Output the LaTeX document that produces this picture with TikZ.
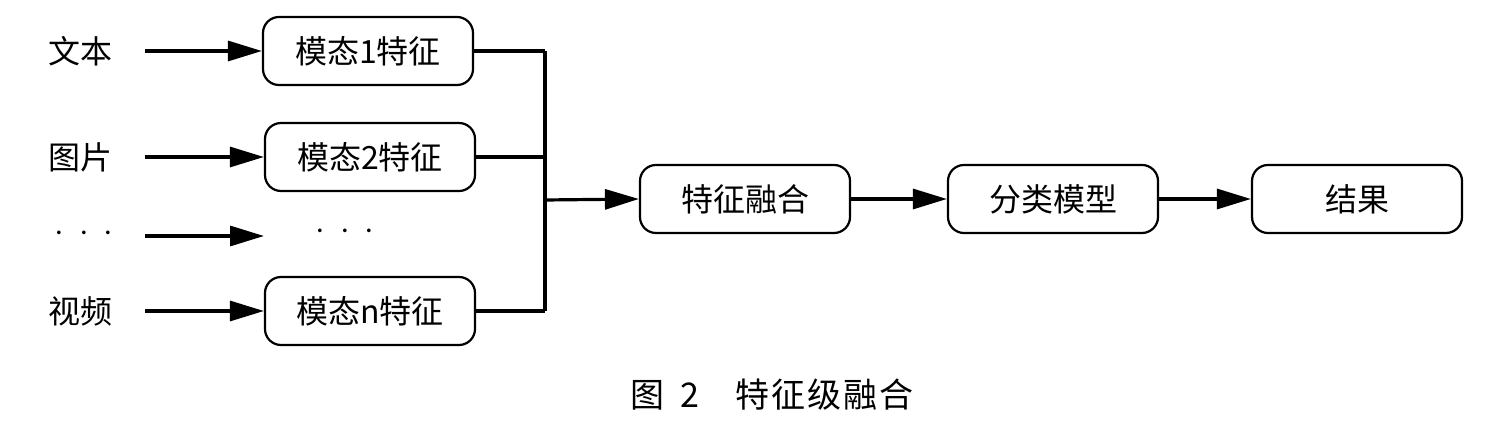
\documentclass[tikz,border=0pt]{standalone}
\usepackage{fontspec}
\setmainfont{Noto Sans CJK SC}
\usetikzlibrary{arrows.meta}
\tikzset{
  box/.style={draw, line width=1.1pt, rounded corners=8pt, minimum width=105pt, minimum height=34pt, inner sep=0pt, font=\fontsize{16pt}{18pt}\selectfont},
  lbl/.style={inner sep=0pt, font=\fontsize{16pt}{18pt}\selectfont},
  conn/.style={line width=1.6pt},
  arr/.style={line width=1.6pt, -{Triangle[length=17pt,width=10pt]}}
}
\begin{document}
\begin{tikzpicture}[x=0.5pt,y=-0.5pt]
\useasboundingbox (0,0) rectangle (1492,421);
% inputs
\node[lbl] (t1) at (80,51) {文本};
\node[lbl] (t2) at (80,157) {图片};
\node[lbl] (t3) at (84,234) {$\cdot\ \cdot\ \cdot$};
\node[lbl] (t4) at (80,311) {视频};
% modality boxes
\node[box] (m1) at (368,51) {模态1特征};
\node[box] (m2) at (370,157) {模态2特征};
\node[lbl] (m3) at (345,232) {$\cdot\ \cdot\ \cdot$};
\node[box] (m4) at (370,311) {模态n特征};
\coordinate (s1) at (145,51);
\coordinate (s2) at (145,157);
\coordinate (s3) at (145,236);
\coordinate (s4) at (145,311);
\coordinate (e3) at (264,236);
\draw[arr] (s1) -- (m1.west);
\draw[arr] (s2) -- (m2.west);
\draw[arr] (s3) -- (e3);
\draw[arr] (s4) -- (m4.west);
% bus
\coordinate (b1) at (545,51);
\coordinate (b2) at (545,157);
\coordinate (b4) at (545,311);
\coordinate (bj) at (545,200);
\draw[conn] (m1.east) -- (b1);
\draw[conn] (m2.east) -- (b2);
\draw[conn] (m4.east) -- (b4);
\draw[conn] (b1) -- (b4);
% pipeline
\node[box] (f) at (745,199) {特征融合};
\node[box] (c) at (1053,199) {分类模型};
\node[box] (r) at (1357,199) {结果};
\draw[arr] (bj) -- (f.west);
\draw[arr] (f.east) -- (c.west);
\draw[arr] (c.east) -- (r.west);
% caption
\node[lbl, font=\fontsize{17pt}{19pt}\selectfont] (cap) at (772,395) {图\hspace{8pt}2\hspace{18pt}特\hspace{1pt}征\hspace{1pt}级\hspace{1pt}融\hspace{1pt}合};
\end{tikzpicture}
\end{document}
